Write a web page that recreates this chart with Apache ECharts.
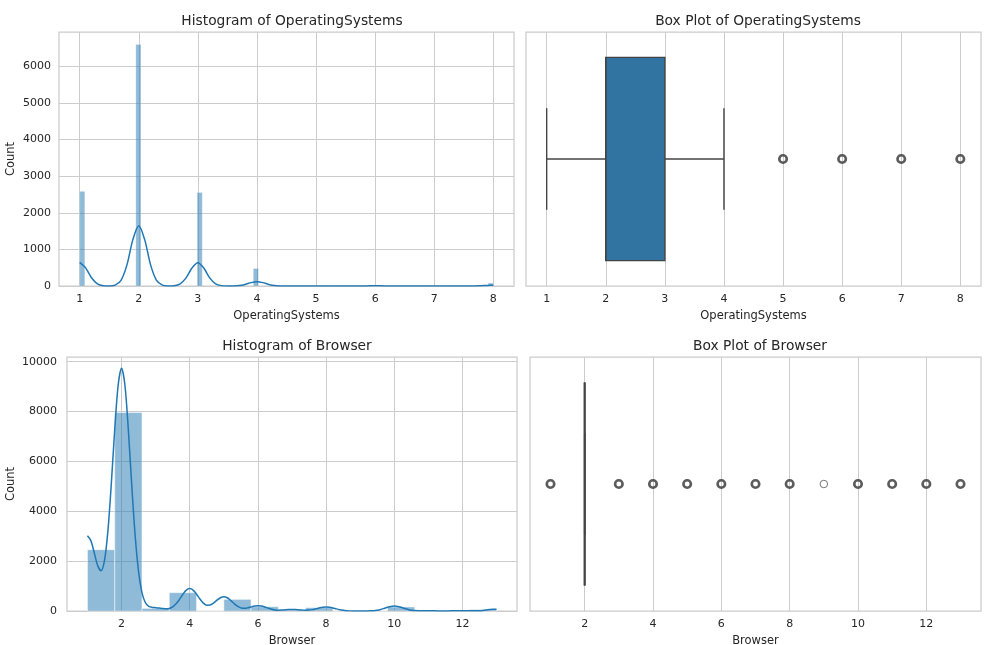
<!DOCTYPE html>
<html>
<head>
<meta charset="utf-8">
<title>OperatingSystems / Browser</title>
<script src="https://cdn.jsdelivr.net/npm/echarts@6/dist/echarts.min.js"></script>
<style>
html, body { margin: 0; padding: 0; background: #fff; }
#main { width: 987px; height: 645px; }
</style>
</head>
<body>
<div id="main"></div>
<script>
// OperatingSystems histogram (bin edges + counts)
var osBinLeft  = [1, 1.9506, 2.9877, 3.9383, 4.9753, 5.9259, 6.9630, 7.9136];
var osBinRight = [1.0864, 2.0370, 3.0741, 4.0247, 5.0617, 6.0123, 7.0494, 8.0];
var osCounts   = [2585, 6601, 2555, 478, 6, 19, 7, 79];

// kde curve, [x, count]
var osKde = [
    [1.0,645],[1.1,496],[1.2,226],[1.3,61],[1.4,10],[1.5,3],[1.6,25],[1.7,155],[1.8,577],[1.9,1267],
    [2.0,1648],[2.1,1267],[2.2,577],[2.3,155],[2.4,25],[2.5,3],[2.6,10],[2.7,60],[2.8,223],[2.9,491],
    [3.0,638],[3.1,491],[3.2,223],[3.3,60],[3.4,10],[3.5,1],[3.6,2],[3.7,11],[3.8,42],[3.9,92],
    [4.0,119],[4.1,92],[4.2,42],[4.3,11],[4.4,2],[4.5,0],[4.7,0],[4.8,0.5],[4.9,1.2],[5.0,1.5],
    [5.1,1.2],[5.2,0.5],[5.3,0],[5.6,0],[5.7,0.4],[5.8,1.6],[5.9,3.6],[6.0,4.7],[6.1,3.6],[6.2,1.6],
    [6.3,0.4],[6.4,0],[6.6,0],[6.7,0.2],[6.8,0.6],[6.9,1.3],[7.0,1.7],[7.1,1.3],[7.2,0.6],[7.3,0.2],
    [7.5,0],[7.6,0.3],[7.7,1.9],[7.8,6.9],[7.9,15],[8.0,20]
];

// Browser histogram
var brBinLeft  = [1, 1.8, 2.6, 3.4, 4.2, 5.0, 5.8, 6.6, 7.4, 8.2, 9.0, 9.8, 10.6, 11.4, 12.2];
var brBinRight = [1.8, 2.6, 3.4, 4.2, 5.0, 5.8, 6.6, 7.4, 8.2, 9.0, 9.8, 10.6, 11.4, 12.2, 13.0];
var brCounts   = [2462, 7961, 105, 736, 0, 467, 174, 49, 135, 0, 1, 163, 6, 10, 61];

var brKde = [
    [1.0,3018],[1.1,2823],[1.2,2332],[1.3,1820],[1.4,1618],[1.5,2027],[1.6,3213],[1.7,5106],[1.8,7281],[1.9,9054],
    [2.0,9739],[2.1,9046],[2.2,7255],[2.3,5028],[2.4,3008],[2.5,1568],[2.6,729],[2.7,332],[2.8,183],[2.9,144],
    [3.0,135],[3.1,122],[3.2,103],[3.3,91],[3.4,103],[3.5,163],[3.6,286],[3.7,468],[3.8,671],[3.9,836],
    [4.0,900],[4.1,838],[4.2,675],[4.3,480],[4.4,317],[4.5,234],[4.6,240],[4.7,320],[4.8,433],[4.9,532],
    [5.0,572],[5.1,531],[5.2,427],[5.3,301],[5.4,191],[5.5,125],[5.6,106],[5.7,126],[5.8,164],[5.9,200],
    [6.0,213],[6.1,198],[6.2,160],[6.3,112],[6.4,70],[6.5,44],[6.6,34],[6.7,37],[6.8,47],[6.9,56],
    [7.0,60],[7.1,56],[7.2,46],[7.3,36],[7.4,30],[7.5,36],[7.6,55],[7.7,87],[7.8,123],[7.9,153],
    [8.0,165],[8.1,153],[8.2,123],[8.3,85],[8.4,51],[8.5,26],[8.6,12],[8.7,5],[8.8,2],[8.9,1.5],
    [9.0,1.3],[9.1,1.6],[9.2,2.7],[9.3,6],[9.4,14],[9.5,32],[9.6,61],[9.7,103],[9.8,148],[9.9,185],
    [10.0,199],[10.1,185],[10.2,148],[10.3,103],[10.4,62],[10.5,33],[10.6,16],[10.7,9],[10.8,7],[10.9,7],
    [11.0,7],[11.1,7],[11.2,5.5],[11.3,4],[11.4,3],[11.5,3],[11.6,4],[11.7,6.5],[11.8,9],[11.9,11],
    [12.0,12],[12.1,11.5],[12.2,10],[12.3,8],[12.4,9],[12.5,14],[12.6,24],[12.7,39],[12.8,56],[12.9,69],
    [13.0,75]
];

// box plot stats: [lower whisker, q1, median, q3, upper whisker]
var osBox = [1, 2, 2, 3, 4];
var osOutliers = [5, 6, 7, 8];
var brBox = [2, 2, 2, 2, 2];
var brOutliers = [1, 3, 4, 5, 6, 7, 8, 10, 11, 12, 13];
var brLoneOutliers = [9];   // a single point, drawn thinner

// tick labels
var osTicks = [1, 2, 3, 4, 5, 6, 7, 8];
var brTicks = [2, 4, 6, 8, 10, 12];
var osCountTicks = [0, 1000, 2000, 3000, 4000, 5000, 6000];
var brCountTicks = [0, 2000, 4000, 6000, 8000, 10000];

var FONT = 'DejaVu Sans';
var TXT = '#262626';
var GRIDC = '#cccccc';
var LINEC = '#444444';

function histItem(params, api) {
    var p0 = api.coord([api.value(0), api.value(2)]);
    var p1 = api.coord([api.value(1), 0]);
    return {
        type: 'rect',
        shape: { x: p0[0], y: p0[1], width: p1[0] - p0[0], height: p1[1] - p0[1] },
        style: { fill: 'rgba(31,119,180,0.5)', stroke: 'rgba(255,255,255,0.5)', lineWidth: params.seriesIndex == 0 ? 0.5 : 1 }
    };
}

function boxItem(params, api) {
    var lo = api.value(0), q1 = api.value(1), med = api.value(2), q3 = api.value(3), hi = api.value(4);
    var a = api.coord([q1, 0.4]), b = api.coord([q3, -0.4]);
    // a box squashed to nothing still shows as a heavier line in seaborn
    var flat = (q3 - q1) == 0;
    var line = function (x0, y0, x1, y1, w) {
        var s = api.coord([x0, y0]), e = api.coord([x1, y1]);
        return { type: 'line', shape: { x1: s[0], y1: s[1], x2: e[0], y2: e[1] },
                 style: { stroke: LINEC, lineWidth: w || 1.4 } };
    };
    return {
        type: 'group',
        children: [
            line(lo, 0, q1, 0),
            line(q3, 0, hi, 0),
            line(lo, -0.2, lo, 0.2),
            line(hi, -0.2, hi, 0.2),
            { type: 'rect', shape: { x: a[0], y: a[1], width: b[0] - a[0], height: b[1] - a[1] },
              style: { fill: '#3274a1', stroke: LINEC, lineWidth: 1.4 } },
            line(med, -0.4, med, 0.4, flat ? 2.2 : 1.4)
        ]
    };
}

function plain(v) {
    return String(v);
}

function xAxisOf(grid, min, max, ticks, name) {
    return {
        gridIndex: grid, type: 'value', min: min, max: max,
        name: name, nameLocation: 'middle', nameGap: 24,
        nameTextStyle: { color: TXT, fontSize: 11.5, fontFamily: FONT },
        axisLine: { show: false },
        axisTick: { show: false, customValues: ticks },
        axisLabel: { customValues: ticks, formatter: plain, color: TXT, fontSize: 11, fontFamily: FONT, margin: 8 },
        splitLine: { show: true, lineStyle: { color: GRIDC, width: 1 } }
    };
}

function countAxisOf(grid, max, ticks) {
    return {
        gridIndex: grid, type: 'value', min: 0, max: max,
        name: 'Count', nameLocation: 'middle', nameGap: grid == 0 ? 42 : 50,
        nameTextStyle: { color: TXT, fontSize: 11.5, fontFamily: FONT },
        axisLine: { show: false },
        axisTick: { show: false, customValues: ticks },
        axisLabel: { customValues: ticks, formatter: plain, color: TXT, fontSize: 11, fontFamily: FONT, margin: grid == 0 ? 8 : 10 },
        splitLine: { show: true, lineStyle: { color: GRIDC, width: 1 } }
    };
}

function boxAxisOf(grid) {
    return { gridIndex: grid, type: 'value', min: -0.5, max: 0.5, show: false };
}

function bins(left, right, counts) {
    var out = [];
    for (var i = 0; i < counts.length; i++) out.push([left[i], right[i], counts[i]]);
    return out;
}

function points(xs) {
    return xs.map(function (x) { return [x, 0]; });
}

function titleOf(text, x, y) {
    return { text: text, left: x, top: y, textAlign: 'center',
             textStyle: { color: TXT, fontSize: 13.8, fontWeight: 'normal', fontFamily: FONT } };
}

var gridBase = { show: true, borderColor: GRIDC, borderWidth: 1.25, backgroundColor: '#fff', outerBoundsMode: 'none', containLabel: false };

var myChart = echarts.init(document.getElementById('main'), null, { renderer: 'canvas' });

var option = {
    animation: false,
    backgroundColor: '#fff',
    textStyle: { fontFamily: FONT },
    title: [
        titleOf('Histogram of OperatingSystems', 287, 9),
        titleOf('Box Plot of OperatingSystems', 753, 9),
        titleOf('Histogram of Browser', 292, 334),
        titleOf('Box Plot of Browser', 755, 334)
    ],
    grid: [
        echarts.util.extend({ left: 59, top: 32, width: 455, height: 254 }, gridBase),
        echarts.util.extend({ left: 526, top: 32, width: 455, height: 254 }, gridBase),
        echarts.util.extend({ left: 67, top: 357, width: 450, height: 254 }, gridBase),
        echarts.util.extend({ left: 530, top: 357, width: 451, height: 254 }, gridBase)
    ],
    xAxis: [
        xAxisOf(0, 0.65, 8.35, osTicks, 'OperatingSystems'),
        xAxisOf(1, 0.65, 8.35, osTicks, 'OperatingSystems'),
        xAxisOf(2, 0.4, 13.6, brTicks, 'Browser'),
        xAxisOf(3, 0.4, 13.6, brTicks, 'Browser')
    ],
    yAxis: [
        countAxisOf(0, 6940, osCountTicks),
        boxAxisOf(1),
        countAxisOf(2, 10190, brCountTicks),
        boxAxisOf(3)
    ],
    series: [
        { type: 'custom', xAxisIndex: 0, yAxisIndex: 0, renderItem: histItem,
          encode: { x: [0, 1], y: 2 }, data: bins(osBinLeft, osBinRight, osCounts) },
        { type: 'custom', xAxisIndex: 2, yAxisIndex: 2, renderItem: histItem,
          encode: { x: [0, 1], y: 2 }, data: bins(brBinLeft, brBinRight, brCounts) },
        { type: 'line', xAxisIndex: 0, yAxisIndex: 0, data: osKde, showSymbol: false, smooth: 0.3,
          lineStyle: { color: '#1f77b4', width: 1.5 }, z: 3 },
        { type: 'line', xAxisIndex: 2, yAxisIndex: 2, data: brKde, showSymbol: false, smooth: 0.3,
          lineStyle: { color: '#1f77b4', width: 1.5 }, z: 3 },
        { type: 'custom', xAxisIndex: 1, yAxisIndex: 1, renderItem: boxItem,
          encode: { x: [0, 1, 2, 3, 4] }, data: [osBox] },
        { type: 'custom', xAxisIndex: 3, yAxisIndex: 3, renderItem: boxItem,
          encode: { x: [0, 1, 2, 3, 4] }, data: [brBox] },
        { type: 'scatter', xAxisIndex: 1, yAxisIndex: 1, data: points(osOutliers), symbolSize: 7.5,
          itemStyle: { color: 'rgba(0,0,0,0)', borderColor: '#333333', borderWidth: 2.6 } },
        { type: 'scatter', xAxisIndex: 3, yAxisIndex: 3, data: points(brOutliers), symbolSize: 7.5,
          itemStyle: { color: 'rgba(0,0,0,0)', borderColor: '#333333', borderWidth: 2.6 } },
        { type: 'scatter', xAxisIndex: 3, yAxisIndex: 3, data: points(brLoneOutliers), symbolSize: 7.5,
          itemStyle: { color: 'rgba(0,0,0,0)', borderColor: '#555555', borderWidth: 1 } }
    ]
};

myChart.setOption(option);
</script>
</body>
</html>
